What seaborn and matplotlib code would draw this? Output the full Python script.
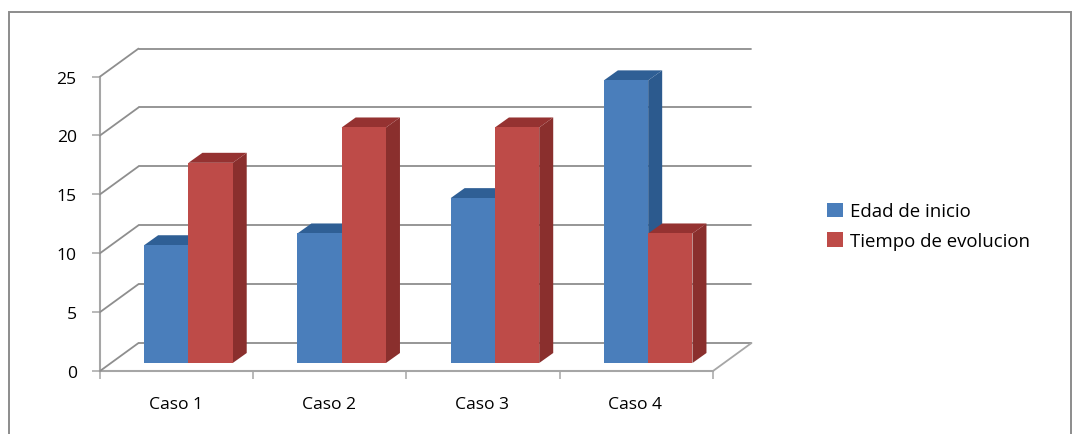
import matplotlib
matplotlib.use("Agg")
import matplotlib.pyplot as plt
from matplotlib.patches import Polygon, Rectangle
from matplotlib.transforms import ScaledTranslation
import pandas as pd
import seaborn as sns

categories = ["Caso 1", "Caso 2", "Caso 3", "Caso 4"]
edad_inicio = [10, 11, 14, 24]
tiempo_evolucion = [17, 20, 20, 11]
series_names = ["Edad de inicio", "Tiempo de evolucion"]
y_ticks = [0, 5, 10, 15, 20, 25]

FRONT = {"Edad de inicio": "#4A7EBB", "Tiempo de evolucion": "#BE4B48"}
SIDE = {"Edad de inicio": "#2C5A8E", "Tiempo de evolucion": "#8A2F2D"}
TOP = {"Edad de inicio": "#2F5F95", "Tiempo de evolucion": "#953231"}
GRID = "#8E8E8E"
AXIS = "#A6A6A6"
TEXT = "#000000"

W, H = 1078, 435
DPI = 100
sns.set_theme(style="white")
plt.rcParams["font.family"] = ["Open Sans", "DejaVu Sans"]

df = pd.DataFrame({
    "caso": categories * 2,
    "valor": edad_inicio + tiempo_evolucion,
    "serie": [series_names[0]] * 4 + [series_names[1]] * 4,
})

fig = plt.figure(figsize=(W / DPI, H / DPI), dpi=DPI, facecolor="white")


def px_axes(left, top, right, bottom, **kw):
    return fig.add_axes([left / W, 1 - bottom / H, (right - left) / W, (bottom - top) / H], **kw)


def fig_line(p0, p1, color, lw):
    fig.add_artist(plt.Line2D([p0[0] / W, p1[0] / W], [p0[1] / H, p1[1] / H], color=color, lw=lw,
                              transform=fig.transFigure, zorder=1))


# Outer chart frame
fig.add_artist(Rectangle((8.5 / W, -0.02), (1071 - 8.5) / W, 1.02 - 13 / H,
                         transform=fig.transFigure, fill=False, edgecolor="#8C8C8C", linewidth=1.4))

# Front plane of the pseudo-3D plot: holds the scale, ticks and labels
L, R, T, B = 100, 713, 77.6, 372
ax = px_axes(L, T, R, B, facecolor="none")
ax.set_xlim(-0.5, 3.5)
ax.set_ylim(0, 25)
ax.set_yticks(y_ticks)
ax.set_xticks([i - 0.5 for i in range(5)])
ax.set_xticklabels([])
ax.tick_params(axis="both", length=8 * 0.72, width=1.1, color=AXIS, left=True, bottom=True, pad=0)
ax.tick_params(axis="y", labelsize=12.6, labelcolor=TEXT, pad=11)
for name, spine in ax.spines.items():
    spine.set_visible(name in ("left", "bottom"))
    spine.set_color(AXIS)
    spine.set_linewidth(1.5)

# Back wall gridlines and their slanted returns to the y axis
DEPTH_X, DEPTH_Y = 38.5, 28.0
to_back = ScaledTranslation(DEPTH_X / DPI, DEPTH_Y / DPI, fig.dpi_scale_trans)
back = ax.transData + to_back
for v in y_ticks:
    ax.plot([-0.5, 3.5], [v, v], color=GRID, lw=1.3, transform=back, clip_on=False, zorder=1)
    fig_line(ax.transData.transform((-0.5, v)), back.transform((-0.5, v)), GRID, 1.3)
fig_line(ax.transData.transform((3.5, 0)), back.transform((3.5, 0)), AXIS, 1.3)

for i, name in enumerate(categories):
    ax.annotate(name, (i, 0), xytext=(-1, -33), textcoords="offset pixels", ha="center",
                va="center", fontsize=12.6, color=TEXT, annotation_clip=False)

# Bars sit a little inside the floor, so their axes is shifted along the depth direction
SHIFT_X, SHIFT_Y = 11.8, 8.0
bars = px_axes(L + SHIFT_X, T - SHIFT_Y, R + SHIFT_X, B - SHIFT_Y, facecolor="none", zorder=3)
sns.barplot(data=df, x="caso", y="valor", hue="serie", hue_order=series_names, order=categories,
            palette=FRONT, width=0.578, gap=0, saturation=1, linewidth=0, legend=False, ax=bars)
bars.set_xlim(-0.5, 3.5)
bars.set_ylim(0, 25)
bars.axis("off")

# Side and top faces are extruded from every front face
FACE_X, FACE_Y = 14.0, 10.0
dx = FACE_X * 4 / (R - L)
dy = FACE_Y * 25 / (B - T)
for s, (name, container) in enumerate(zip(series_names, bars.containers)):
    for c, patch in enumerate(container):
        x, w, h = patch.get_x(), patch.get_width(), patch.get_height()
        patch.set_zorder(3 + 4 * c + 2 * s)
        z = patch.get_zorder() - 0.5
        bars.add_patch(Polygon([(x + w, 0), (x + w + dx, dy), (x + w + dx, h + dy), (x + w, h)],
                               closed=True, facecolor=SIDE[name], edgecolor="none", zorder=z, clip_on=False))
        bars.add_patch(Polygon([(x, h), (x + dx, h + dy), (x + w + dx, h + dy), (x + w, h)],
                               closed=True, facecolor=TOP[name], edgecolor="none", zorder=z, clip_on=False))

# Legend with small square keys
handles = [Rectangle((0, 0), 1, 1, facecolor=FRONT[n], edgecolor="none") for n in series_names]
fig.legend(handles, series_names, loc="center left", bbox_to_anchor=(818 / W, 1 - 227 / H),
           frameon=False, fontsize=13.4, handlelength=0.82, handleheight=0.82, handletextpad=0.42,
           labelspacing=0.62, borderpad=0, labelcolor=TEXT)

fig.savefig("out.png", dpi=DPI, facecolor="white")
